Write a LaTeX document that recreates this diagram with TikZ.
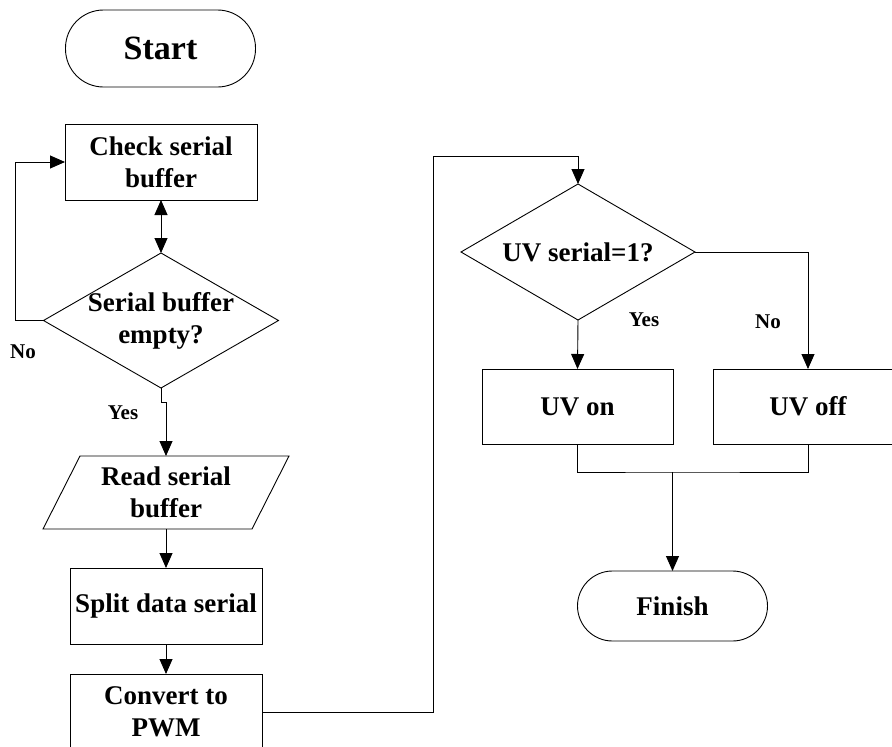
\documentclass[tikz,border=0pt]{standalone}
\usepackage{fontspec}
\setmainfont{Liberation Serif}
\usetikzlibrary{arrows.meta,shapes.geometric,calc}
\begin{document}
\begin{tikzpicture}[x=1pt,y=-1pt,
  line width=0.9pt,
  every node/.style={inner sep=0pt,outer sep=0pt},
  txt/.style={align=center,font=\fontsize{27}{32}\selectfont\bfseries},
  lbl/.style={font=\fontsize{21}{24}\selectfont\bfseries},
  procbox/.style={txt,draw,rectangle,minimum width=192pt,minimum height=76pt},
  termbox/.style={txt,draw,rectangle,rounded corners=35pt,minimum width=190pt},
  decbox/.style={draw,diamond,minimum width=235pt,minimum height=135pt},
  arr/.style={-{Triangle[length=15pt,width=13pt]}},
  darr/.style={{Triangle[length=15pt,width=13pt]}-{Triangle[length=15pt,width=13pt]}}
]
\useasboundingbox (0,0) rectangle (892,747);
\clip (0,0) rectangle (892,747);

% left column
\node[termbox,minimum height=77pt,rounded corners=38pt,
      font=\fontsize{34}{40}\selectfont\bfseries] (start) at (160.5,48.5) {Start};
\node[procbox] (check) at (161,162) {Check serial\\buffer};
\node[decbox] (d1) at (161,320.5) {};
\node[txt] at (d1.center) {Serial buffer\\empty?};
\node[txt,minimum width=246pt,minimum height=73pt] (read) at (166,492.5) {Read serial\\buffer};
\draw ($(read.north west)+(37,0)$) -- ($(read.north east)+(0,0)$)
      -- ($(read.south east)+(-37,0)$) -- (read.south west) -- cycle;
\node[procbox] (split) at (166,606) {Split data serial};
\node[procbox] (conv) at (166,712) {Convert to\\PWM};

% right column
\node[decbox,minimum width=234pt,minimum height=136pt] (d2) at (578,252) {};
\node[txt] at (d2.center) {UV serial=1?};
\node[procbox,minimum width=191pt,minimum height=75pt] (uvon) at (577.5,406.5) {UV on};
\node[procbox,minimum width=190pt,minimum height=75pt] (uvoff) at (808,406.5) {UV off};
\node[termbox,minimum height=70pt] (finish) at (672.5,606) {Finish};

% connectors, left column
\draw[darr] (check.south) -- (d1.north);
\draw[arr] (d1.west) -- ++(-28.5,0) |- (check.west);
\draw[arr] (d1.south) -- ++(0,14) -| (read.north);
\draw[arr] (read.south) -- (split.north);
\draw[arr] (split.south) -- (conv.north);

% link to the right column
\coordinate (up) at (433,156);
\draw[arr] (conv.east) -| (up) -| (d2.north);

% connectors, right column
\draw[arr] (d2.south) -- (uvon.north);
\draw[arr] (d2.east) -| (uvoff.north);
\coordinate (merge) at (672.5,472);
\draw (uvon.south) |- (merge) -| (uvoff.south);
\draw[arr] (merge) -- (finish.north);

% branch labels
\node[lbl] (no1) at (23,352) {No};
\node[lbl] (yes1) at (123,413) {Yes};
\node[lbl] (yes2) at (644,320) {Yes};
\node[lbl] (no2) at (768,322) {No};
\end{tikzpicture}
\end{document}
